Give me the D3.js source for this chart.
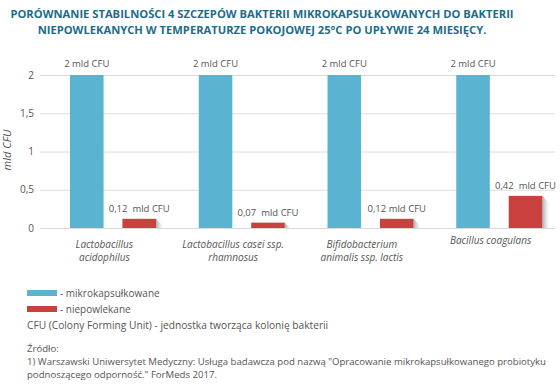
<!DOCTYPE html>
<html><head><meta charset="utf-8">
<script src="https://cdn.jsdelivr.net/npm/d3@7/dist/d3.min.js"></script>
<style>
html,body{margin:0;padding:0;background:#fff;}
svg{display:block;}
text{font-family:"Open Sans",sans-serif;}
</style></head>
<body>
<svg id="c" width="560" height="384"></svg>
<script>
const categories = [
  ["Lactobacillus", "acidophilus"],
  ["Lactobacillus casei ssp.", "rhamnosus"],
  ["Bifidobacterium", "animalis ssp. lactis"],
  ["Bacillus coagulans"]
];
const seriesNames = ["mikrokapsułkowane", "niepowlekane"];
const microValues = [2, 2, 2, 2];
const uncoatedValues = [0.12, 0.07, 0.12, 0.42];
const microLabels = ["2 mld CFU", "2 mld CFU", "2 mld CFU", "2 mld CFU"];
const uncoatedLabels = ["0,12  mld CFU", "0,07  mld CFU", "0,12 mld CFU", "0,42  mld CFU"];
const yTicks = [0, 0.5, 1, 1.5, 2];
const yTickLabels = ["0", "0,5", "1", "1,5", "2"];
const titleLines = [
  "PORÓWNANIE STABILNOŚCI 4 SZCZEPÓW BAKTERII MIKROKAPSUŁKOWANYCH DO BAKTERII",
  "NIEPOWLEKANYCH W TEMPERATURZE POKOJOWEJ 25°C PO UPŁYWIE 24 MIESIĘCY."
];
const noteText = "CFU (Colony Forming Unit) - jednostka tworząca kolonię bakterii";
const sourceLines = [
  "Źródło:",
  "1) Warszawski Uniwersytet Medyczny: Usługa badawcza pod nazwą \"Opracowanie mikrokapsułkowanego probiotyku",
  "podnoszącego odporność.\" ForMeds 2017."
];

const colors = ["#5ab3d1", "#c8413f"];
const svg = d3.select("#c");
const defs = svg.append("defs");
const grad = defs.append("linearGradient").attr("id","sh").attr("x1","0").attr("x2","1").attr("y1","0").attr("y2","0");
grad.append("stop").attr("offset","0").attr("stop-color","#888").attr("stop-opacity",0.7);
grad.append("stop").attr("offset","1").attr("stop-color","#bbb").attr("stop-opacity",0);

// Title
svg.append("g").selectAll("text").data(titleLines).join("text")
  .attr("x", 262).attr("y", (d,i)=> 18 + i*16)
  .attr("text-anchor","middle")
  .attr("font-size","11.2px").attr("font-weight","bold")
  .attr("fill","#1c6c88")
  .text(d=>d);

const plotL = 40, plotR = 555;
const y = d3.scaleLinear().domain([0, 2]).range([228, 75]);
const x0 = d3.scaleBand().domain(d3.range(categories.length)).range([plotL, plotR]).padding(0);
const x1 = d3.scaleBand().domain([0,1]).range([30, 116]).paddingInner(0.36).paddingOuter(0);

// grid
const yAxis = d3.axisLeft(y).tickValues(yTicks).tickFormat((d,i)=>yTickLabels[i])
  .tickSize(-(plotR-plotL)).tickPadding(6);
const ga = svg.append("g").attr("transform",`translate(${plotL},0)`).call(yAxis);
ga.select(".domain").remove();
ga.selectAll(".tick line").attr("stroke","#dcdcdc").attr("stroke-width",1);
ga.selectAll(".tick text").attr("fill","#555").attr("font-size","10px").attr("font-family","'Open Sans',sans-serif");

// y label
svg.append("text").attr("transform","translate(11,150) rotate(-90)")
  .attr("text-anchor","middle").attr("font-size","11px").attr("font-style","italic")
  .attr("fill","#555").text("mld CFU");

const groups = svg.append("g").selectAll("g").data(categories).join("g")
  .attr("transform",(d,i)=>`translate(${x0(i)},0)`);

// shadows for uncoated bars
groups.append("path")
  .attr("d",(d,i)=>{
    const xs = x1(1)+x1.bandwidth(), yt = y(uncoatedValues[i]), yb = y(0);
    return `M${xs},${yt}L${xs+7},${yt+7}L${xs+7},${yb}L${xs},${yb}Z`;
  })
  .attr("fill","url(#sh)");

groups.append("rect")
  .attr("x", x1(0)).attr("width", x1.bandwidth())
  .attr("y",(d,i)=>y(microValues[i])).attr("height",(d,i)=>y(0)-y(microValues[i]))
  .attr("fill",colors[0]);
groups.append("rect")
  .attr("x", x1(1)).attr("width", x1.bandwidth())
  .attr("y",(d,i)=>y(uncoatedValues[i])).attr("height",(d,i)=>y(0)-y(uncoatedValues[i]))
  .attr("fill",colors[1]);

groups.append("text")
  .attr("x", x1(0)+x1.bandwidth()/2).attr("y",(d,i)=>y(microValues[i])-8)
  .attr("text-anchor","middle").attr("font-size","9.5px").attr("fill","#555")
  .text((d,i)=>microLabels[i]);
groups.append("text")
  .attr("x", x1(1)+x1.bandwidth()/2).attr("y",(d,i)=>y(uncoatedValues[i])-7)
  .attr("text-anchor","middle").attr("font-size","9.5px").attr("fill","#555")
  .style("white-space","pre").attr("xml:space","preserve")
  .text((d,i)=>uncoatedLabels[i]);

// category labels
groups.each(function(d,i){
  const g = d3.select(this);
  const n = d.length;
  g.selectAll("text.cat").data(d).join("text").attr("class","cat")
    .attr("x", x0.bandwidth()/2)
    .attr("y",(t,j)=> (n===1 ? 244 : 248) + j*13)
    .attr("text-anchor","middle").attr("font-size","10px").attr("font-style","italic")
    .attr("fill","#555").text(t=>t);
});

// legend
const leg = svg.append("g").selectAll("g").data(seriesNames).join("g")
  .attr("transform",(d,i)=>`translate(27,${290+i*16})`);
leg.append("rect").attr("width",30).attr("height",6).attr("fill",(d,i)=>colors[i]);
leg.append("text").attr("x",33).attr("y",7).attr("font-size","10px").attr("fill","#555").text(d=>"- "+d);

svg.append("text").attr("x",27).attr("y",329).attr("font-size","10.2px").attr("fill","#555").text(noteText);
svg.append("g").selectAll("text").data(sourceLines).join("text")
  .attr("x",27).attr("y",(d,i)=>352+i*13).attr("font-size","9.6px").attr("fill","#555")
  .each(function(d,i){ if(i===1) d3.select(this).attr("textLength",519).attr("lengthAdjust","spacingAndGlyphs"); })
  .text(d=>d);
</script>
</body></html>
